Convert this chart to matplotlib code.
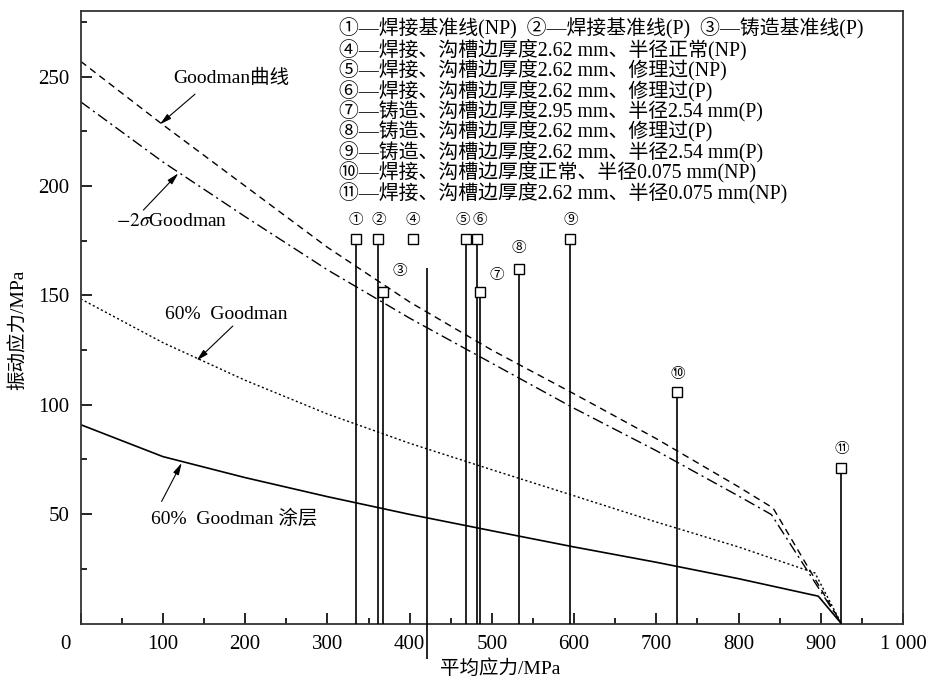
import matplotlib
matplotlib.use('Agg')
import matplotlib.pyplot as plt
from matplotlib.ticker import FixedLocator

plt.rcParams['font.family'] = ['Liberation Serif', 'Noto Sans CJK SC']
plt.rcParams['mathtext.fontset'] = 'stix'

# Goodman curves (mean stress MPa -> vibration stress MPa)
goodman_x = [0, 100, 200, 300, 400, 500, 600, 700, 800, 842, 925]
goodman_y = [257, 228, 200, 172, 147, 125, 105, 84.5, 62.5, 52.8, 0]
sigma_x = [0, 100, 200, 300, 400, 500, 600, 700, 800, 840, 925]
sigma_y = [238.5, 211, 186, 161.7, 139.6, 119, 98.4, 79, 58.3, 49.8, 0]
g60_x = [0, 100, 200, 300, 400, 500, 600, 700, 800, 893, 925]
g60_y = [148.4, 128.4, 111.2, 95.8, 82.4, 70.3, 58.4, 46.4, 35, 23.1, 0]
coat_x = [0, 100, 200, 300, 400, 500, 600, 700, 800, 897, 925]
coat_y = [90.9, 76.3, 66.7, 58, 49.9, 42.4, 35, 28, 20.5, 12.5, 0]

# test points
test_x = [334.5, 362, 368, 404, 468.5, 482, 485.7, 532.5, 595.5, 725.6, 925]
test_y = [176, 176, 151.5, 176, 176, 176, 151.5, 162, 176, 106, 71]
test_labels = ['①', '②', '③', '④', '⑤', '⑥', '⑦', '⑧', '⑨', '⑩', '⑪']
has_line = [True, True, True, False, True, True, True, True, True, True, True]
# the lone line near 420
extra_x = 421.6
extra_y = (-16.4, 162.4)

legend_lines = [
    '①—焊接基准线(NP)  ②—焊接基准线(P)  ③—铸造基准线(P)',
    '④—焊接、沟槽边厚度2.62 mm、半径正常(NP)',
    '⑤—焊接、沟槽边厚度2.62 mm、修理过(NP)',
    '⑥—焊接、沟槽边厚度2.62 mm、修理过(P)',
    '⑦—铸造、沟槽边厚度2.95 mm、半径2.54 mm(P)',
    '⑧—铸造、沟槽边厚度2.62 mm、修理过(P)',
    '⑨—铸造、沟槽边厚度2.62 mm、半径2.54 mm(P)',
    '⑩—焊接、沟槽边厚度正常、半径0.075 mm(NP)',
    '⑪—焊接、沟槽边厚度2.62 mm、半径0.075 mm(NP)',
]

xticks = [0, 100, 200, 300, 400, 500, 600, 700, 800, 900, 1000]
xticklabels = ['', '100', '200', '300', '400', '500', '600', '700', '800', '900', '1 000']
yticks = [50, 100, 150, 200, 250]

fig = plt.figure(figsize=(9.34, 6.81), dpi=100)
ax = fig.add_axes([0.0864, 0.0844, 0.8804, 0.8994])

ax.plot(goodman_x, goodman_y, color='black', lw=1.0, linestyle=(0, (5, 3.5)))
ax.plot(sigma_x, sigma_y, color='black', lw=1.0, linestyle=(0, (8, 3, 1.5, 3)))
ax.plot(g60_x, g60_y, color='black', lw=1.0, linestyle=(0, (1.5, 1.8)))
ax.plot(coat_x, coat_y, color='black', lw=1.2)

for x, y, ln in zip(test_x, test_y, has_line):
    if ln:
        ax.vlines(x, 0, y, color='black', lw=1.2, zorder=3)
ax.vlines(extra_x, extra_y[0], extra_y[1], color='black', lw=1.2, zorder=3, clip_on=False)
ax.plot(test_x, test_y, linestyle='none', marker='s', ms=7.5, mfc='white',
        mec='black', mew=1.0, zorder=4)

label_dx = [0, 0, 12, 0, -2.5, 2, 12, 0, 0, 0, 0]
label_dy = [12.7, 12.7, 14.8, 12.7, 12.7, 12.7, 11.7, 15, 12.7, 12.7, 13.7]
for x, y, lab, dx, dy in zip(test_x, test_y, test_labels, label_dx, label_dy):
    ax.annotate(lab, xy=(x, y), xytext=(dx, dy), textcoords='offset points',
                ha='center', va='center', fontsize=10.5)

# curve callouts: text, then a separate arrow from tail to tip
arrow = dict(arrowstyle='-|>,head_length=0.7,head_width=0.18', color='black',
             lw=0.8, shrinkA=0, shrinkB=0)
ax.text(183.5, 249.3, 'Goodman曲线', fontsize=14, ha='center', va='center')
ax.annotate('', xy=(96.3, 228.2), xytext=(139, 242), arrowprops=arrow)
ax.text(111, 183.6, '$-2\\sigma$Goodman', fontsize=14, ha='center', va='center')
ax.annotate('', xy=(118.7, 205.8), xytext=(76.2, 189), arrowprops=arrow)
ax.text(176.8, 141.4, '60%  Goodman', fontsize=14, ha='center', va='center')
ax.annotate('', xy=(141, 120.2), xytext=(185, 136), arrowprops=arrow)
ax.text(186.5, 47.9, '60%  Goodman 涂层', fontsize=14, ha='center', va='center')
ax.annotate('', xy=(122.8, 73.4), xytext=(98.4, 55.8), arrowprops=arrow)

for i, t in enumerate(legend_lines):
    fig.text(339 / 934, 1 - (29 + 20.4 * i) / 681, t, fontsize=14.3,
             ha='left', va='center')

ax.set_xlim(0, 1000)
ax.set_ylim(0, 280)
ax.set_xticks(xticks)
ax.set_xticklabels(xticklabels)
ax.set_yticks(yticks)
ax.xaxis.set_minor_locator(FixedLocator([50, 150, 250, 350, 450, 550, 650, 750, 850, 950]))
ax.yaxis.set_minor_locator(FixedLocator([25, 75, 125, 175, 225, 275]))
ax.tick_params(which='both', direction='in', labelsize=15, top=False, right=False)
ax.tick_params(which='major', length=8, width=1.2, pad=8)
ax.tick_params(which='minor', length=4.5, width=1.2)
ax.annotate('0', xy=(0, 0), xytext=(-11, -8), textcoords='offset points',
            ha='center', va='top', fontsize=15, annotation_clip=False)
for s in ax.spines.values():
    s.set_linewidth(1.3)
    s.set_color('#333333')

ax.set_xlabel('平均应力/MPa', fontsize=14)
ax.set_ylabel('振动应力/MPa', fontsize=14)
ax.xaxis.set_label_coords(0.51, -0.058)
ax.yaxis.set_label_coords(-0.064, 0.48)

fig.savefig('out.png', dpi=100)
